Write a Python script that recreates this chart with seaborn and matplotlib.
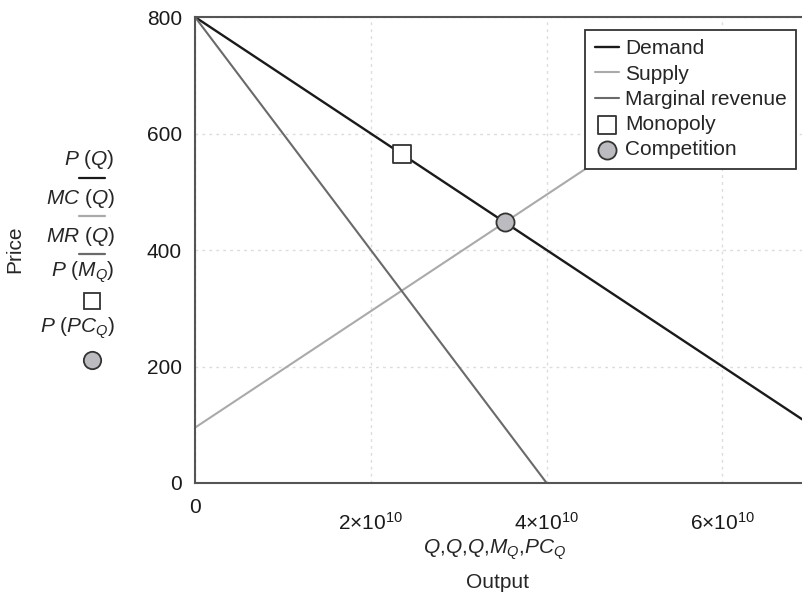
import matplotlib
matplotlib.use("Agg")
import matplotlib.pyplot as plt
from matplotlib.lines import Line2D
import matplotlib.transforms as mtransforms
import seaborn as sns

# linear market model, endpoints
demand_q = [0, 6.95e10]
demand_p = [800, 105]
supply_q = [0, 6.0e10]
supply_p = [95, 695]
mr_q = [0, 4.0e10]
mr_p = [800, 0]
monopoly_q = [2.35e10]
monopoly_p = [565]
competition_q = [3.525e10]
competition_p = [447.5]

x_ticks = [0, 2e10, 4e10, 6e10]
x_tick_labels = ["0", r"$\mathregular{2{\times}10^{10}}$",
                 r"$\mathregular{4{\times}10^{10}}$", r"$\mathregular{6{\times}10^{10}}$"]
y_ticks = [0, 200, 400, 600, 800]

sns.set_style("white")
plt.rcParams["font.family"] = ["Liberation Sans", "DejaVu Sans"]
plt.rcParams["mathtext.fontset"] = "custom"
plt.rcParams["mathtext.rm"] = "Liberation Sans"
plt.rcParams["mathtext.it"] = "Liberation Sans:italic"

c_demand = "#1a1a1a"
c_supply = "#aaaaaa"
c_mr = "#6a6a6a"
c_axis = "#555555"
fs = 15

W, H = 802, 600
def px(x, y):
    return x / W, 1 - y / H

fig = plt.figure(figsize=(W / 100, H / 100), dpi=100)
ax = fig.add_axes([195 / W, 1 - 483 / H, 607 / W, 466 / H])

sns.lineplot(x=demand_q, y=demand_p, ax=ax, color=c_demand, lw=1.7, label="Demand")
sns.lineplot(x=supply_q, y=supply_p, ax=ax, color=c_supply, lw=1.5, label="Supply")
sns.lineplot(x=mr_q, y=mr_p, ax=ax, color=c_mr, lw=1.5, label="Marginal revenue")
sns.scatterplot(x=monopoly_q, y=monopoly_p, ax=ax, marker="s", s=150, color="white",
                edgecolor="#333333", linewidth=1.3, label="Monopoly", zorder=5)
sns.scatterplot(x=competition_q, y=competition_p, ax=ax, marker="o", s=170, color="#bcbcc0",
                edgecolor="#333333", linewidth=1.3, label="Competition", zorder=5)

ax.set_xlim(0, 6.905e10)
ax.set_ylim(0, 800)
ax.set_xticks(x_ticks)
ax.set_xticklabels(x_tick_labels)
ax.set_yticks(y_ticks)
ax.set_xlabel("")
ax.set_ylabel("")
ax.grid(True, ls=(0, (2, 3)), color="#dcdcdc", lw=1)
for side in ["left", "bottom", "top"]:
    ax.spines[side].set_color(c_axis)
    ax.spines[side].set_linewidth(1.5)
ax.spines["right"].set_visible(False)
ax.tick_params(axis="both", direction="out", colors=c_axis, labelcolor="#1a1a1a",
               labelsize=fs, width=1.5)
ax.tick_params(axis="y", length=8, pad=1.5)
ax.tick_params(axis="x", length=7, pad=14)
# the plain zero sits higher than the power-of-ten labels
lbl0 = ax.get_xticklabels()[0]
lbl0.set_transform(lbl0.get_transform() + mtransforms.ScaledTranslation(0, 10 / 72, fig.dpi_scale_trans))

leg = ax.legend(loc="upper right", bbox_to_anchor=px(796, 30), bbox_transform=fig.transFigure,
                frameon=True, fancybox=False, framealpha=1, edgecolor="#333333",
                fontsize=fs, borderaxespad=0, handlelength=1.15, handletextpad=0.3,
                labelspacing=0.3, borderpad=0.45)
leg.get_frame().set_linewidth(1.3)

# axis labels
fig.text(*px(15, 249), "Price", rotation=90, ha="center", va="center", fontsize=fs)
fig.text(*px(498, 583), "Output", ha="center", va="center", fontsize=fs)
fig.text(*px(495, 550), r"$Q{,}Q{,}Q{,}M_Q{,}PC_Q$", ha="center", va="center", fontsize=fs)

# stacked key beside the price axis
side_labels = [r"$P\ (Q)$", r"$MC\ (Q)$", r"$MR\ (Q)$", r"$P\ (M_Q)$", r"$P\ (PC_Q)$"]
side_y = [160, 198, 236, 272, 328]
for txt, yy in zip(side_labels, side_y):
    fig.text(*px(115, yy), txt, ha="right", va="center", fontsize=fs)
for col, yy in zip([c_demand, c_supply, c_mr], [178, 216, 254]):
    x0, y0 = px(79, yy)
    x1, _ = px(105, yy)
    fig.add_artist(Line2D([x0, x1], [y0, y0], color=col, lw=1.6, transform=fig.transFigure))
mx, my = px(92, 301)
fig.add_artist(Line2D([mx], [my], marker="s", ms=12, mfc="white", mec="#333333", mew=1.3,
                      transform=fig.transFigure))
mx, my = px(92, 360)
fig.add_artist(Line2D([mx], [my], marker="o", ms=12.5, mfc="#bcbcc0", mec="#333333", mew=1.3,
                      transform=fig.transFigure))

fig.savefig("out.png", dpi=100)
